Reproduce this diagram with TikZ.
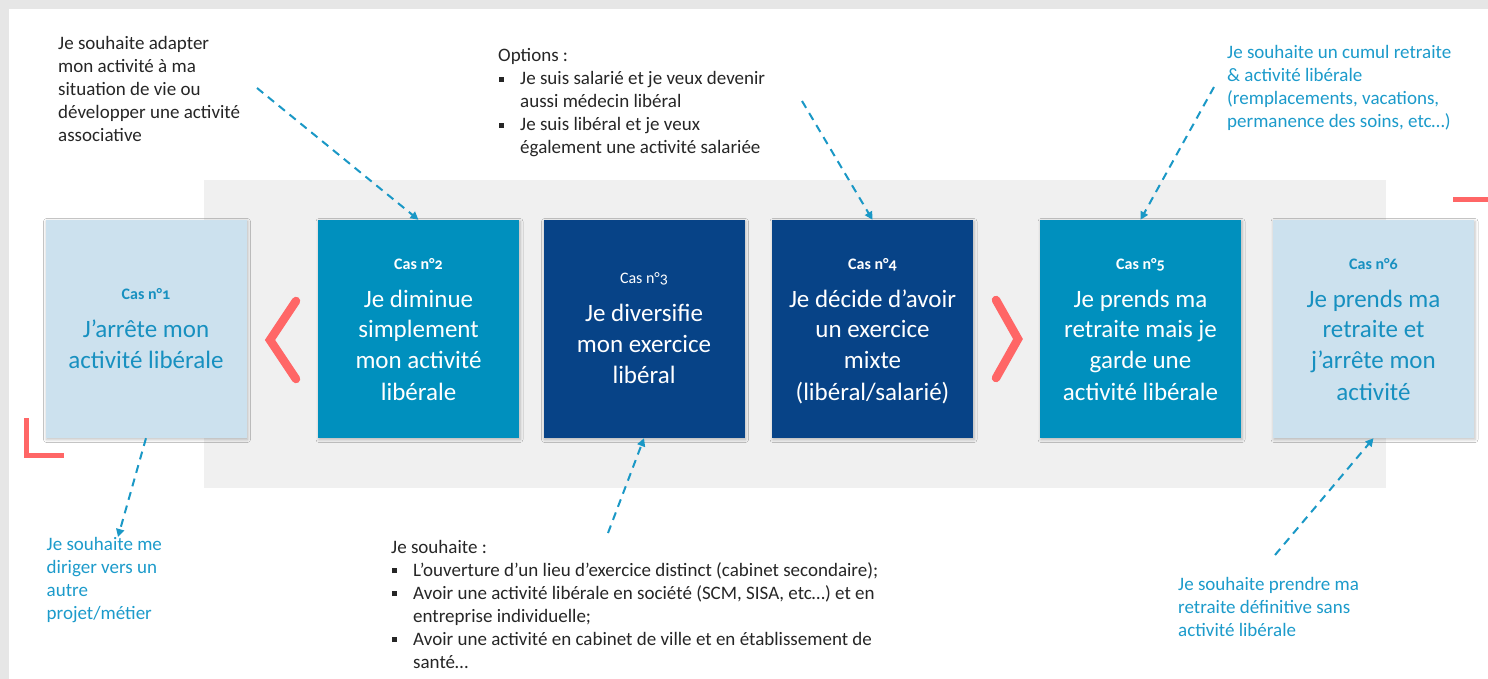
\documentclass[tikz,border=0pt]{standalone}
\usepackage{fontspec}
\setmainfont{Carlito}
\usetikzlibrary{arrows.meta,shadows.blur}
\definecolor{outerg}{HTML}{E6E6E6}
\definecolor{panelg}{HTML}{F0F0F0}
\definecolor{lightb}{HTML}{CCE1EE}
\definecolor{midb}{HTML}{0090BE}
\definecolor{darkb}{HTML}{074387}
\definecolor{tealtxt}{HTML}{1790C0}
\definecolor{notetxt}{HTML}{1C9BCB}
\definecolor{darktxt}{HTML}{262626}
\definecolor{arrowc}{HTML}{1A98C6}
\definecolor{redc}{HTML}{FF6666}
\newcommand\casfont{\fontsize{16}{19}\selectfont\bfseries\addfontfeature{Numbers=OldStyle}}
\newcommand\caslight{\fontsize{16}{19}\selectfont\addfontfeature{Numbers=OldStyle}}
\newcommand\bsq{\hspace{1pt}\raisebox{3pt}{\rule{5pt}{5pt}}}
\begin{document}
\begin{tikzpicture}[x=1pt,y=-1pt,
  box/.style={minimum width=201pt, minimum height=218pt, inner sep=0pt, draw=none,
    blur shadow={shadow xshift=1pt, shadow yshift=-1.5pt, shadow blur radius=3pt, shadow opacity=25}},
  boxtext/.style={anchor=base, inner sep=0pt, font=\fontsize{25}{31}\selectfont},
  note/.style={anchor=base west, inner sep=0pt, font=\fontsize{19}{23}\selectfont},
  callout/.style={draw=arrowc, line width=2pt, dash pattern=on 8pt off 6pt,
    -{Triangle[length=8pt,width=8pt]}},
  chev/.style={draw=redc, line width=8.5pt, line cap=round, line join=miter},
  corner/.style={draw=redc, line width=5pt}]
% backgrounds
\fill[outerg] (0,0) rectangle (1488,679);
\fill[white] (9,9) rectangle (1488,679);
\useasboundingbox (0,0) rectangle (1488,679);
\fill[panelg] (204,180) rectangle (1386,488);
% corner marks
\draw[corner] (26.5,418) -- (26.5,455) -- (64,455);
\draw[corner] (1453,199.5) -- (1488,199.5);
% boxes
\node[box, fill=lightb] (b1) at (146,329) {};
\node[box, fill=midb]   (b2) at (418.5,329) {};
\node[box, fill=darkb]  (b3) at (644,329) {};
\node[box, fill=darkb]  (b4) at (872.5,329) {};
\node[box, fill=midb]   (b5) at (1140.5,329) {};
\node[box, fill=lightb] (b6) at (1373.5,329) {};
% box texts
\node[boxtext, text=tealtxt] (t1) at (146,299) {\begin{tabular}[t]{@{}c@{}}{\casfont Cas n°1}\\[7pt] J’arrête mon\\ activité libérale\end{tabular}};
\node[boxtext, text=white] (t2) at (418.5,269) {\begin{tabular}[t]{@{}c@{}}{\casfont Cas n°2}\\[7pt] Je diminue\\ simplement\\ mon activité\\ libérale\end{tabular}};
\node[boxtext, text=white] (t3) at (644,283) {\begin{tabular}[t]{@{}c@{}}{\caslight Cas n°3}\\[7pt] Je diversifie\\ mon exercice\\ libéral\end{tabular}};
\node[boxtext, text=white] (t4) at (872.5,269) {\begin{tabular}[t]{@{}c@{}}{\casfont Cas n°4}\\[7pt] Je décide d’avoir\\ un exercice\\ mixte\\ (libéral/salarié)\end{tabular}};
\node[boxtext, text=white] (t5) at (1140.5,269) {\begin{tabular}[t]{@{}c@{}}{\casfont Cas n°5}\\[7pt] Je prends ma\\ retraite mais je\\ garde une\\ activité libérale\end{tabular}};
\node[boxtext, text=tealtxt] (t6) at (1373.5,269) {\begin{tabular}[t]{@{}c@{}}{\casfont Cas n°6}\\[7pt] Je prends ma\\ retraite et\\ j’arrête mon\\ activité\end{tabular}};
% chevrons
\draw[chev] (296,301) -- (270,340) -- (296,379);
\draw[chev] (996,300) -- (1018,339) -- (996,378);
% notes
\node[note, text=darktxt] (n2) at (58,50) {\begin{tabular}[t]{@{}l@{}}Je souhaite adapter\\ mon activité à ma\\ situation de vie ou\\ développer une activité\\ associative\end{tabular}};
\node[note, text=darktxt] (n4) at (498,62) {\begin{tabular}[t]{@{}p{22pt}@{}l@{}}\multicolumn{2}{@{}l}{Options :}\\
\bsq & Je suis salarié et je veux devenir\\
 & aussi médecin libéral\\
\bsq & Je suis libéral et je veux\\
 & également une activité salariée\end{tabular}};
\node[note, text=notetxt] (n5) at (1227,58.5) {\begin{tabular}[t]{@{}l@{}}Je souhaite un cumul retraite\\ \& activité libérale\\ (remplacements, vacations,\\ permanence des soins, etc…)\end{tabular}};
\node[note, text=notetxt] (n1) at (46.5,550) {\begin{tabular}[t]{@{}l@{}}Je souhaite me\\ diriger vers un\\ autre\\ projet/métier\end{tabular}};
\node[note, text=darktxt] (n3) at (391,553) {\begin{tabular}[t]{@{}p{22pt}@{}l@{}}\multicolumn{2}{@{}l}{Je souhaite :}\\
\bsq & L’ouverture d’un lieu d’exercice distinct (cabinet secondaire);\\
\bsq & Avoir une activité libérale en société (SCM, SISA, etc…) et en\\
 & entreprise individuelle;\\
\bsq & Avoir une activité en cabinet de ville et en établissement de\\
 & santé…\end{tabular}};
\node[note, text=notetxt] (n6) at (1178,590) {\begin{tabular}[t]{@{}l@{}}Je souhaite prendre ma\\ retraite définitive sans\\ activité libérale\end{tabular}};
% callout arrows
\coordinate (a2) at (257,88);
\coordinate (a4) at (802,101);
\coordinate (a5) at (1214,87);
\coordinate (a1) at (118,537);
\coordinate (a3) at (608,533);
\coordinate (a6) at (1275,555);
\draw[callout] (a2) -- (b2.north);
\draw[callout] (a4) -- (b4.north);
\draw[callout] (a5) -- (b5.north);
\draw[callout] (b1.south) -- (a1);
\draw[callout] (a3) -- (b3.south);
\draw[callout] (a6) -- (b6.south);
\end{tikzpicture}
\end{document}
